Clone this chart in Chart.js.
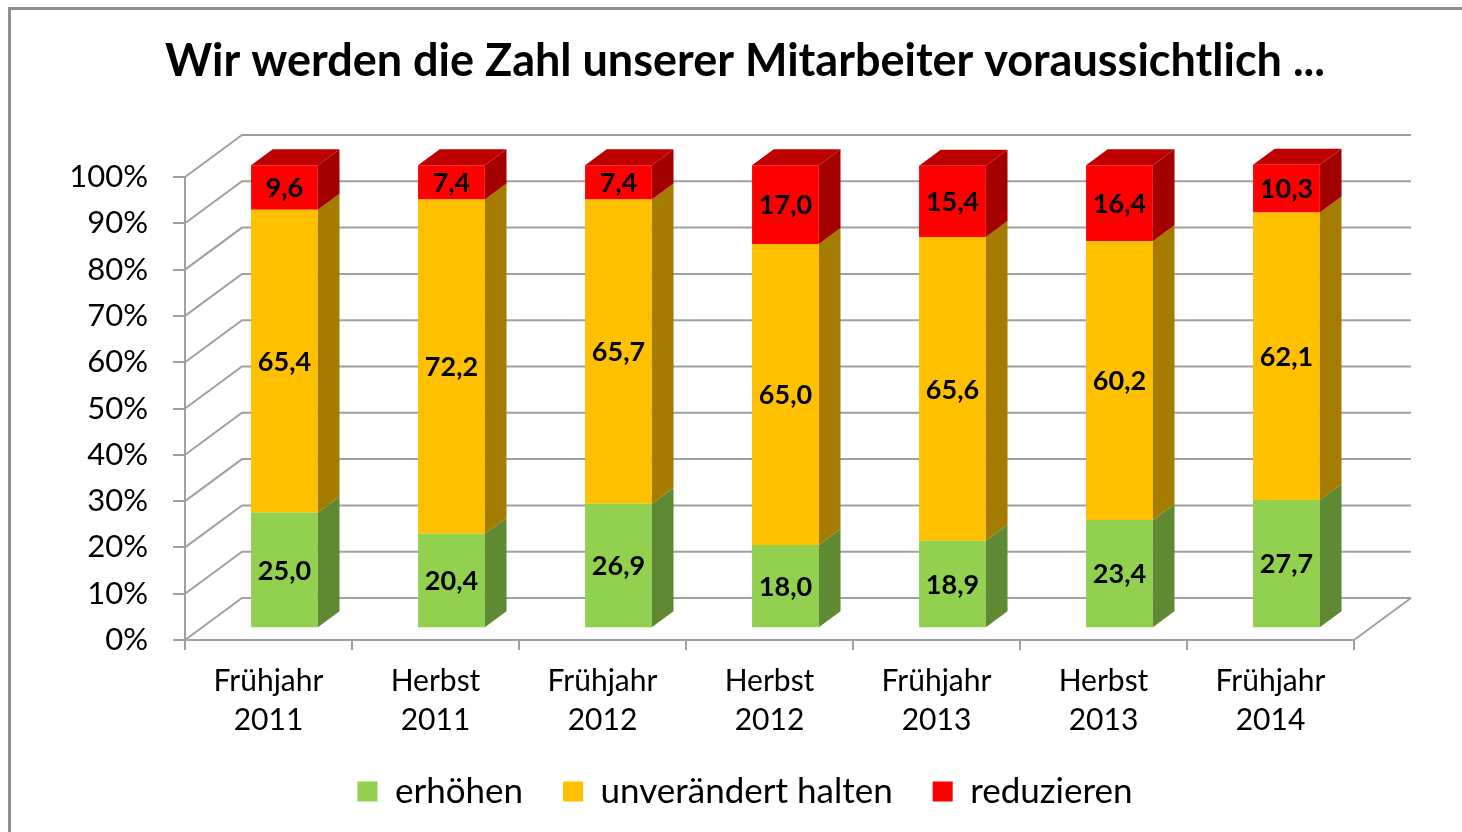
<!DOCTYPE html>
<html>
<head>
<meta charset="utf-8">
<script src="https://cdn.jsdelivr.net/npm/chart.js@4.4.0/dist/chart.umd.min.js"></script>
<style>
    html, body { margin: 0; padding: 0; background: #fff; overflow: hidden; }
    #wrap { position: relative; width: 1462px; height: 832px; }
    #frame { position: absolute; left: 8px; top: 7px; right: -20px; bottom: -20px;
             border-top: 3px solid #8f8f8f; border-left: 3px solid #8f8f8f; }
    canvas { position: absolute; left: 0; top: 0; }
</style>
</head>
<body>
<div id="wrap">
    <div id="frame"></div>
    <canvas id="chart" width="1462" height="832"></canvas>
</div>
<script>
// Daten
var categories = [
    ['Frühjahr', '2011'], ['Herbst', '2011'], ['Frühjahr', '2012'], ['Herbst', '2012'],
    ['Frühjahr', '2013'], ['Herbst', '2013'], ['Frühjahr', '2014']
];
var erhoehen = [25.0, 20.4, 26.9, 18.0, 18.9, 23.4, 27.7];
var unveraendert = [65.4, 72.2, 65.7, 65.0, 65.6, 60.2, 62.1];
var reduzieren = [9.6, 7.4, 7.4, 17.0, 15.4, 16.4, 10.3];
var yTicks = [0, 10, 20, 30, 40, 50, 60, 70, 80, 90, 100];

// 3D-Optik
var DEPTH_X = 57, DEPTH_Y = -42;    // Tiefe der Wand
var FRONT = 0.28, BAR_DEPTH = 0.38; // Lage der Säulen in der Tiefe
var GRID = '#a0a0a0';
var sideColors = ['#5f8a33', '#a67c00', '#a30000'];
var topColors = ['#78b040', '#d49f00', '#bf0000'];

function fmt(v) {
    return v.toFixed(1).replace('.', ',');
}

var box3d = {
    id: 'box3d',
    beforeDatasetsDraw: function (chart) {
        var ctx = chart.ctx, a = chart.chartArea, y = chart.scales.y;
        ctx.save();
        ctx.strokeStyle = GRID;
        ctx.lineWidth = 2;
        yTicks.forEach(function (v) {
            var py = y.getPixelForValue(v);
            ctx.beginPath();
            ctx.moveTo(a.left, py);
            ctx.lineTo(a.left + DEPTH_X, py + DEPTH_Y);
            ctx.lineTo(a.right + DEPTH_X, py + DEPTH_Y);
            ctx.stroke();
        });
        // rechte Bodenkante
        ctx.beginPath();
        ctx.moveTo(a.right, a.bottom);
        ctx.lineTo(a.right + DEPTH_X, a.bottom + DEPTH_Y);
        ctx.stroke();
        ctx.restore();

        // Säulen etwas nach hinten schieben
        ctx.save();
        ctx.translate(DEPTH_X * FRONT, DEPTH_Y * FRONT);
    },
    afterDatasetsDraw: function (chart) {
        var ctx = chart.ctx;
        var dx = DEPTH_X * BAR_DEPTH, dy = DEPTH_Y * BAR_DEPTH;
        var last = chart.data.datasets.length - 1;
        chart.data.datasets.forEach(function (ds, di) {
            chart.getDatasetMeta(di).data.forEach(function (bar) {
                var p = bar.getProps(['x', 'y', 'base', 'width'], true);
                var l = p.x - p.width / 2, r = p.x + p.width / 2;
                var t = Math.min(p.y, p.base), b = Math.max(p.y, p.base);
                ctx.fillStyle = sideColors[di];
                ctx.beginPath();
                ctx.moveTo(r, b);
                ctx.lineTo(r + dx, b + dy);
                ctx.lineTo(r + dx, t + dy);
                ctx.lineTo(r, t);
                ctx.closePath();
                ctx.fill();
                if (di === last) {
                    ctx.fillStyle = topColors[di];
                    ctx.beginPath();
                    ctx.moveTo(l, t);
                    ctx.lineTo(l + dx, t + dy);
                    ctx.lineTo(r + dx, t + dy);
                    ctx.lineTo(r, t);
                    ctx.closePath();
                    ctx.fill();
                }
            });
        });

        // Werte in die Säulen schreiben
        ctx.fillStyle = '#000';
        ctx.font = 'bold 27px Lato';
        ctx.textAlign = 'center';
        ctx.textBaseline = 'middle';
        chart.data.datasets.forEach(function (ds, di) {
            chart.getDatasetMeta(di).data.forEach(function (bar, i) {
                var p = bar.getProps(['x', 'y', 'base'], true);
                ctx.fillText(fmt(ds.data[i]), p.x, (p.y + p.base) / 2 + 1);
            });
        });
        ctx.restore();
    }
};

var ctx = document.getElementById('chart').getContext('2d');

var chart = new Chart(ctx, {
    type: 'bar',
    data: {
        labels: categories,
        datasets: [
            { label: 'erhöhen', data: erhoehen, backgroundColor: '#92d050' },
            { label: 'unverändert halten', data: unveraendert, backgroundColor: '#ffc000' },
            { label: 'reduzieren', data: reduzieren, backgroundColor: '#ff0000' }
        ]
    },
    options: {
        responsive: false,
        animation: false,
        layout: { padding: { left: 28, right: 0, top: 0, bottom: 13 } },
        datasets: { bar: { barPercentage: 0.8, categoryPercentage: 0.5, clip: false } },
        scales: {
            x: {
                stacked: true,
                grid: { drawOnChartArea: false, drawTicks: true, tickLength: 10, color: GRID, lineWidth: 2 },
                border: { display: true, color: GRID, width: 2 },
                ticks: { color: '#000', font: { family: 'Lato', size: 30, lineHeight: 1.3 }, padding: 12, maxRotation: 0 },
                afterFit: function (s) { s.height = 94; }
            },
            y: {
                stacked: true,
                min: 0,
                max: 100,
                grid: { drawOnChartArea: false, drawTicks: true, tickLength: 12, color: GRID, lineWidth: 2 },
                border: { display: true, color: GRID, width: 2 },
                ticks: {
                    stepSize: 10,
                    color: '#000',
                    padding: 25,
                    font: { family: 'Lato', size: 31 },
                    callback: function (v) { return v + '%'; }
                },
                afterFit: function (s) { s.width = 157; }
            },
            // Platz für die Tiefe rechts
            yRaum: {
                position: 'right',
                grid: { display: false },
                border: { display: false },
                ticks: { display: false },
                afterFit: function (s) { s.width = 108; }
            }
        },
        plugins: {
            title: {
                display: true,
                text: 'Wir werden die Zahl unserer Mitarbeiter voraussichtlich ...',
                color: '#000',
                font: { family: 'Lato', size: 45, weight: 'bold' },
                padding: { top: 34, bottom: 89 }
            },
            legend: {
                position: 'bottom',
                labels: {
                    color: '#000',
                    font: { family: 'Lato', size: 35 },
                    boxWidth: 20,
                    boxHeight: 20,
                    padding: 40
                }
            },
            tooltip: { enabled: false }
        }
    },
    plugins: [box3d]
});
</script>
</body>
</html>
